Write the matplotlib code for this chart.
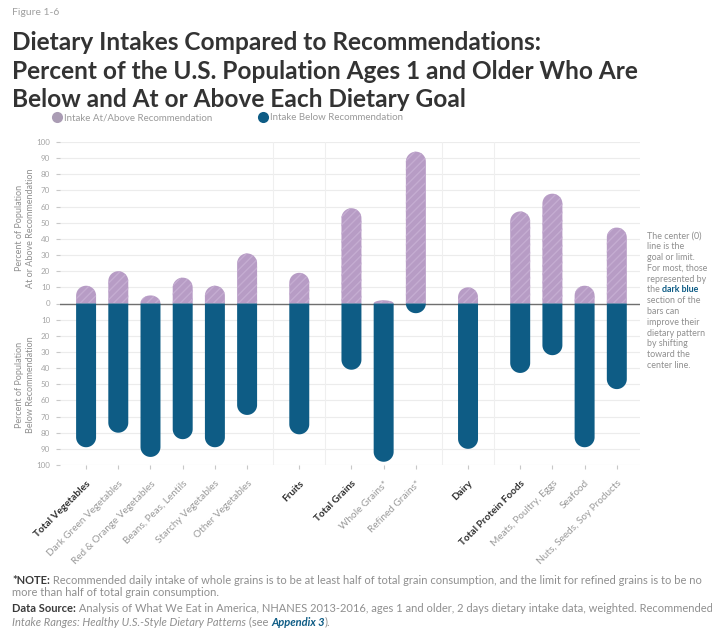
import numpy as np
import matplotlib.pyplot as plt
from matplotlib.patches import Polygon
from matplotlib.lines import Line2D

plt.rcParams['font.family'] = ['Lato', 'DejaVu Sans']
plt.rcParams['hatch.linewidth'] = 1.0

# data (percent of population)
categories = ["Total Vegetables", "Dark Green Vegetables", "Red & Orange Vegetables",
              "Beans, Peas, Lentils", "Starchy Vegetables", "Other Vegetables",
              "Fruits", "Total Grains", "Whole Grains*", "Refined Grains*",
              "Dairy", "Total Protein Foods", "Meats, Poultry, Eggs", "Seafood",
              "Nuts, Seeds, Soy Products"]
groups = [0, 0, 0, 0, 0, 0, 1, 2, 2, 2, 3, 4, 4, 4, 4]
is_total = [1, 0, 0, 0, 0, 0, 1, 1, 0, 0, 1, 1, 0, 0, 0]
above = [11, 20, 5, 16, 11, 31, 19, 59, 2, 94, 10, 57, 68, 11, 47]
below = [89, 80, 95, 84, 89, 69, 81, 41, 98, 6, 90, 43, 32, 89, 53]
yticks = np.arange(-100, 101, 10)

PURPLE = '#b79cc5'
PURPLE_HATCH = '#c4acd1'
BLUE = '#0e5c85'
GRAY = '#8f8f8f'

W, H = 712, 633
fig = plt.figure(figsize=(W / 100, H / 100), dpi=100)
ax = fig.add_axes([60 / W, 1 - 465 / H, 580 / W, 323 / H])

pos = np.arange(len(categories)) + 0.62 * np.array(groups)
ax.set_xlim(-0.81, 17.2)
ax.set_ylim(-100, 100)

# half bar width in x units, cap radius converted to y units
hw = 0.31
px_per_x = 580 / (17.2 + 0.81)
px_per_y = 323 / 200
ry = hw * px_per_x / px_per_y


def capped_bar(x, v, **kw):
    s = 1 if v >= 0 else -1
    c = min(ry, abs(v))
    h = abs(v) - c
    t = np.linspace(0, np.pi, 40)
    xs = np.concatenate([[x + hw], x + hw * np.cos(t), [x - hw]])
    ys = np.concatenate([[0], s * (h + c * np.sin(t)), [0]])
    ax.add_patch(Polygon(np.column_stack([xs, ys]), closed=True, **kw))


for x, a, b in zip(pos, above, below):
    capped_bar(x, a, facecolor=PURPLE, edgecolor=PURPLE_HATCH, hatch='////',
               linewidth=0, zorder=3)
    capped_bar(x, -b, facecolor=BLUE, linewidth=0, zorder=3)

# grid, zero line, group separators
for y in yticks:
    ax.axhline(y, color='#ececec', linewidth=0.8, zorder=0)
ax.axhline(0, color='#6f6f6f', linewidth=1.0, zorder=2)
for g in range(1, 5):
    left = pos[np.array(groups) == g - 1].max()
    right = pos[np.array(groups) == g].min()
    ax.axvline((left + right) / 2, color='#efefef', linewidth=0.8, zorder=0)

for sp in ax.spines.values():
    sp.set_visible(False)

ax.set_yticks(yticks)
ax.set_yticklabels([str(abs(v)) for v in yticks], fontsize=5.8, color='#a5a5a5')
ax.tick_params(axis='y', length=3, color='#c8c8c8', pad=4)
ax.set_xticks(pos)
ax.set_xticklabels(categories, rotation=45, ha='right', rotation_mode='anchor',
                   fontsize=7.2)
ax.tick_params(axis='x', length=3, color='#c8c8c8', pad=7)
for lbl, tot in zip(ax.get_xticklabels(), is_total):
    if tot:
        lbl.set_fontweight('bold')
        lbl.set_color('#2f2f2f')
    else:
        lbl.set_color('#9a9a9a')

# y axis titles
fig.text(25 / W, 1 - 228 / H, "Percent of Population\nAt or Above Recommendation",
         rotation=90, ha='center', va='center', fontsize=6.5, color=GRAY,
         linespacing=1.2)
fig.text(25 / W, 1 - 385 / H, "Percent of Population\nBelow Recommendation",
         rotation=90, ha='center', va='center', fontsize=6.5, color=GRAY,
         linespacing=1.2)

# title block
fig.text(12 / W, 1 - 8 / H, "Figure 1-6", fontsize=7.5, color='#a0a0a0', va='top')
fig.text(12 / W, 1 - 31 / H,
         "Dietary Intakes Compared to Recommendations:\n"
         "Percent of the U.S. Population Ages 1 and Older Who Are\n"
         "Below and At or Above Each Dietary Goal",
         fontsize=17.6, fontweight='bold', color='#333333', va='top',
         linespacing=1.3)

# legend
handles = [Line2D([], [], marker='o', linestyle='none', markersize=8,
                  markerfacecolor='#aa9cb4', markeredgewidth=0),
           Line2D([], [], marker='o', linestyle='none', markersize=8,
                  markerfacecolor=BLUE, markeredgewidth=0)]
fig.legend(handles, ["Intake At/Above Recommendation", "Intake Below Recommendation"],
           loc='center left', bbox_to_anchor=(47 / W, 1 - 118 / H), ncol=2,
           frameon=False, fontsize=7, labelcolor='#9a9a9a', handletextpad=0.1,
           columnspacing=4.7, handlelength=1.2, borderaxespad=0)

# right side note
note_lines = ["The center (0)", "line is the", "goal or limit.", "For most, those",
              "represented by", None, "section of the", "bars can", "improve their",
              "dietary pattern", "by shifting", "toward the", "center line."]
for i, line in enumerate(note_lines):
    y = 1 - (236 + i * 10.8) / H
    if line is None:
        t = fig.text(647 / W, y, "the ", fontsize=6.4, color=GRAY, va='center')
        ax.annotate("dark blue", xy=(1, 0), xycoords=t, va='bottom', fontsize=6.4,
                    color=BLUE, fontweight='bold')
    else:
        fig.text(647 / W, y, line, fontsize=6.4, color=GRAY, va='center')

# footnotes
FS = 8
t1 = fig.text(12 / W, 1 - 580 / H, "*NOTE:", fontsize=FS, fontweight='bold',
              color='#3a3a3a', va='center')
ax.annotate(" Recommended daily intake of whole grains is to be at least half of total grain "
            "consumption, and the limit for refined grains is to be no",
            xy=(1, 0), xycoords=t1, va='bottom', fontsize=FS, color=GRAY)
fig.text(12 / W, 1 - 593 / H, "more than half of total grain consumption.",
         fontsize=FS, color=GRAY, va='center')
t2 = fig.text(12 / W, 1 - 609 / H, "Data Source:", fontsize=FS, fontweight='bold',
              color='#3a3a3a', va='center')
ax.annotate(" Analysis of What We Eat in America, NHANES 2013-2016, ages 1 and older, "
            "2 days dietary intake data, weighted. Recommended",
            xy=(1, 0), xycoords=t2, va='bottom', fontsize=FS, color=GRAY)
t3 = fig.text(12 / W, 1 - 622 / H, "Intake Ranges: Healthy U.S.-Style Dietary Patterns",
              fontsize=FS, color=GRAY, style='italic', va='center')
t4 = ax.annotate(" (see ", xy=(1, 0), xycoords=t3, va='bottom', fontsize=FS, color=GRAY)
t5 = ax.annotate("Appendix 3", xy=(1, 0), xycoords=t4, va='bottom', fontsize=FS,
                 color=BLUE, fontweight='bold', style='italic')
ax.annotate(").", xy=(1, 0), xycoords=t5, va='bottom', fontsize=FS, color=GRAY)

fig.savefig('out.png', dpi=100)
